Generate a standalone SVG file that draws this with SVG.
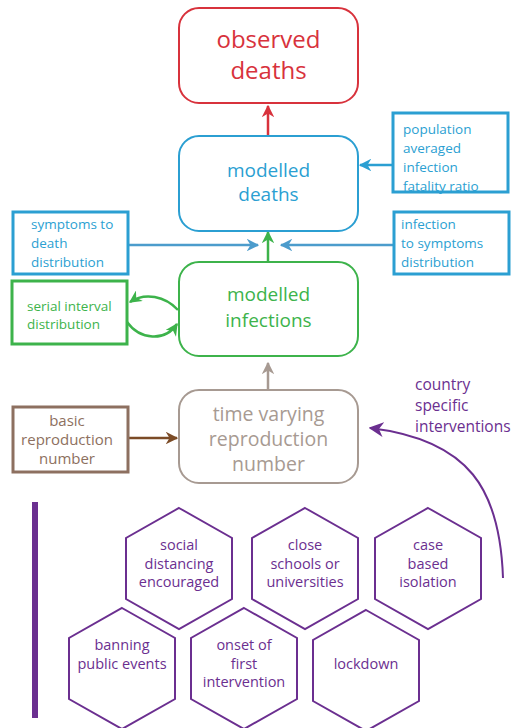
<svg xmlns="http://www.w3.org/2000/svg" width="514" height="728" viewBox="0 0 514 728">
<style>
text{font-family:"Open Sans","Noto Sans","DejaVu Sans",sans-serif;text-anchor:middle}
.rb{fill:#fff;stroke-width:2}
.ib{fill:#fff;stroke-width:3}
.hex{fill:none;stroke:#6b2f90;stroke-width:2}
.pt{fill:#6b2f90;font-size:14.5px}
.l{text-anchor:start}
</style>
<defs>
<marker id="aR" viewBox="0 0 10 10" refX="9" refY="5" markerWidth="5" markerHeight="5" orient="auto" markerUnits="strokeWidth"><path d="M0 0 L10 5 L0 10 L3 5 z" fill="#d8323c"/></marker>
<marker id="aB" viewBox="0 0 10 10" refX="9" refY="5" markerWidth="5" markerHeight="5" orient="auto" markerUnits="strokeWidth"><path d="M0 0 L10 5 L0 10 L3 5 z" fill="#2b9fd2"/></marker>
<marker id="aB2" viewBox="0 0 10 10" refX="9" refY="5" markerWidth="5" markerHeight="5" orient="auto" markerUnits="strokeWidth"><path d="M0 0 L10 5 L0 10 L3 5 z" fill="#4c9ccc"/></marker>
<marker id="aG" viewBox="0 0 10 10" refX="9" refY="5" markerWidth="5" markerHeight="5" orient="auto" markerUnits="strokeWidth"><path d="M0 0 L10 5 L0 10 L3 5 z" fill="#3db34b"/></marker>
<marker id="aY" viewBox="0 0 10 10" refX="9" refY="5" markerWidth="5" markerHeight="5" orient="auto" markerUnits="strokeWidth"><path d="M0 0 L10 5 L0 10 L3 5 z" fill="#a79a92"/></marker>
<marker id="aN" viewBox="0 0 10 10" refX="9" refY="5" markerWidth="5" markerHeight="5" orient="auto" markerUnits="strokeWidth"><path d="M0 0 L10 5 L0 10 L3 5 z" fill="#7b4b26"/></marker>
<marker id="aP" viewBox="0 0 10 10" refX="9" refY="5" markerWidth="7.5" markerHeight="7.5" orient="auto" markerUnits="strokeWidth"><path d="M0 0 L10 5 L0 10 L3 5 z" fill="#6b2f90"/></marker>
</defs>

<g id="connectors" fill="none">
<line x1="268" y1="136" x2="268" y2="106" stroke="#d8323c" stroke-width="2.5" marker-end="url(#aR)"/>
<line x1="393" y1="165" x2="360" y2="165" stroke="#2b9fd2" stroke-width="2.5" marker-end="url(#aB)"/>
<line x1="127" y1="245" x2="258" y2="245" stroke="#4c9ccc" stroke-width="2.5" marker-end="url(#aB2)"/>
<line x1="394" y1="245" x2="281" y2="245" stroke="#4c9ccc" stroke-width="2.5" marker-end="url(#aB2)"/>
<line x1="268" y1="262" x2="268" y2="232" stroke="#3db34b" stroke-width="2.5" marker-end="url(#aG)"/>
<path d="M178 310 C165 296 145 292 130 302" stroke="#3db34b" stroke-width="2.5" marker-end="url(#aG)"/>
<path d="M127 322 C140 340 165 342 177 324" stroke="#3db34b" stroke-width="2.5" marker-end="url(#aG)"/>
<line x1="268" y1="390" x2="268" y2="363" stroke="#a79a92" stroke-width="2.5" marker-end="url(#aY)"/>
<line x1="128" y1="438" x2="177" y2="438" stroke="#7b4b26" stroke-width="2.5" marker-end="url(#aN)"/>
<path d="M503 578 C500 490 470 440 370 428" stroke="#6b2f90" stroke-width="2" marker-end="url(#aP)"/>
</g>

<g id="observed-deaths">
<rect x="179" y="8" width="179" height="95" rx="20" class="rb" stroke="#d8323c"/>
<text x="268.5" y="48" font-size="24" fill="#d8323c">observed</text>
<text x="268.5" y="79" font-size="24" fill="#d8323c">deaths</text>
</g>

<g id="modelled-deaths">
<rect x="179" y="136" width="179" height="95" rx="20" class="rb" stroke="#2b9fd2"/>
<text x="268.5" y="177" font-size="19" fill="#2b9fd2">modelled</text>
<text x="268.5" y="201" font-size="19" fill="#2b9fd2">deaths</text>
</g>

<g id="ifr">
<rect x="393" y="113" width="115" height="79" class="ib" stroke="#2b9fd2"/>
<text class="l" x="403" y="134" font-size="13.5" fill="#2b9fd2">population</text>
<text class="l" x="403" y="153" font-size="13.5" fill="#2b9fd2">averaged</text>
<text class="l" x="403" y="172" font-size="13.5" fill="#2b9fd2">infection</text>
<text class="l" x="403" y="191" font-size="13.5" fill="#2b9fd2">fatality ratio</text>
</g>

<g id="symptoms-to-death">
<rect x="13" y="212" width="115" height="62" class="ib" stroke="#2b9fd2"/>
<text class="l" x="31" y="229" font-size="13.5" fill="#2b9fd2">symptoms to</text>
<text class="l" x="31" y="248" font-size="13.5" fill="#2b9fd2">death</text>
<text class="l" x="31" y="267" font-size="13.5" fill="#2b9fd2">distribution</text>
</g>

<g id="infection-to-symptoms">
<rect x="394" y="212" width="115" height="62" class="ib" stroke="#2b9fd2"/>
<text class="l" x="401" y="229" font-size="13.5" fill="#2b9fd2">infection</text>
<text class="l" x="401" y="248" font-size="13.5" fill="#2b9fd2">to symptoms</text>
<text class="l" x="401" y="267" font-size="13.5" fill="#2b9fd2">distribution</text>
</g>

<g id="modelled-infections">
<rect x="179" y="262" width="179" height="94" rx="20" class="rb" stroke="#3db34b"/>
<text x="268.5" y="301" font-size="19" fill="#3db34b">modelled</text>
<text x="268.5" y="327" font-size="19" fill="#3db34b">infections</text>
</g>

<g id="serial-interval">
<rect x="12" y="281" width="115" height="63" class="ib" stroke="#3db34b"/>
<text class="l" x="27" y="311" font-size="13.5" fill="#3db34b">serial interval</text>
<text class="l" x="27" y="329" font-size="13.5" fill="#3db34b">distribution</text>
</g>

<g id="time-varying">
<rect x="179" y="390" width="179" height="93" rx="20" class="rb" stroke="#a79a92"/>
<text x="268.5" y="421" font-size="19.5" fill="#a79a92">time varying</text>
<text x="268.5" y="446" font-size="19.5" fill="#a79a92">reproduction</text>
<text x="268.5" y="471" font-size="19.5" fill="#a79a92">number</text>
</g>

<g id="basic-reproduction">
<rect x="13" y="407" width="115" height="65" class="ib" stroke="#8d7060"/>
<text x="67" y="426" font-size="15" fill="#8d7060">basic</text>
<text x="67" y="445" font-size="15" fill="#8d7060">reproduction</text>
<text x="67" y="464" font-size="15" fill="#8d7060">number</text>
</g>

<g id="country-interventions">
<text class="l" x="415" y="390" font-size="15.5" fill="#6b2f90">country</text>
<text class="l" x="415" y="411" font-size="15.5" fill="#6b2f90">specific</text>
<text class="l" x="415" y="432" font-size="15.5" fill="#6b2f90">interventions</text>
</g>

<g id="bar"><rect x="32" y="502" width="6" height="216" fill="#6b2f90"/></g>

<g id="hex-social">
<polygon class="hex" points="179,508 232,538 232,599 179,629 126,599 126,538"/>
<text class="pt" x="179" y="550">social</text>
<text class="pt" x="179" y="568.5">distancing</text>
<text class="pt" x="179" y="587">encouraged</text>
</g>
<g id="hex-schools">
<polygon class="hex" points="305,508 358,538 358,599 305,629 252,599 252,538"/>
<text class="pt" x="305" y="550">close</text>
<text class="pt" x="305" y="568.5">schools or</text>
<text class="pt" x="305" y="587">universities</text>
</g>
<g id="hex-isolation">
<polygon class="hex" points="428,508 481,538 481,599 428,629 375,599 375,538"/>
<text class="pt" x="428" y="550">case</text>
<text class="pt" x="428" y="568.5">based</text>
<text class="pt" x="428" y="587">isolation</text>
</g>
<g id="hex-banning">
<polygon class="hex" points="122,608 175,638 175,699 122,729 69,699 69,638"/>
<text class="pt" x="122" y="650">banning</text>
<text class="pt" x="122" y="668.5">public events</text>
</g>
<g id="hex-onset">
<polygon class="hex" points="244,608 297,638 297,699 244,729 191,699 191,638"/>
<text class="pt" x="244" y="650">onset of</text>
<text class="pt" x="244" y="668.5">first</text>
<text class="pt" x="244" y="687">intervention</text>
</g>
<g id="hex-lockdown">
<polygon class="hex" points="366,610 419,640 419,701 366,731 313,701 313,640"/>
<text class="pt" x="366" y="669">lockdown</text>
</g>
</svg>
